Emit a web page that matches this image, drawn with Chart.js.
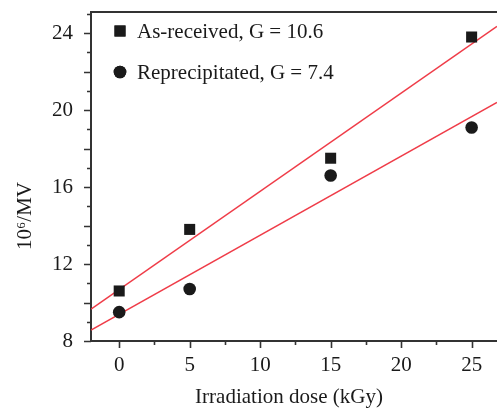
<!DOCTYPE html>
<html>
<head>
<meta charset="utf-8">
<script src="https://cdn.jsdelivr.net/npm/chart.js@4.4.1/dist/chart.umd.min.js"></script>
<style>
  html, body { margin: 0; padding: 0; background: #fff; }
  #wrap { width: 497px; height: 408px; }
</style>
</head>
<body>
<div id="wrap"><canvas id="doseChart" width="497" height="408"></canvas></div>
<script>
// measured points
var doses = [0, 5, 15, 25];
var asReceived = [10.6, 13.8, 17.5, 23.8];
var reprecipitated = [9.5, 10.7, 16.6, 19.1];

// fitted lines, read at the plot edges
var fitDoses = [-2, 26.8];
var asReceivedFit = [9.66, 24.35];
var reprecipitatedFit = [8.57, 20.4];

var xTicks = [0, 2.5, 5, 7.5, 10, 12.5, 15, 17.5, 20, 22.5, 25];
var yTicks = [8, 9, 10, 11, 12, 13, 14, 15, 16, 17, 18, 19, 20, 21, 22, 23, 24, 25];

var legendLabels = ['As-received, G = 10.6', 'Reprecipitated, G = 7.4'];
var xTitle = 'Irradiation dose (kGy)';
var yTitle = '10\u2076/MV';

var serif = "'Liberation Serif', 'DejaVu Serif', serif";
var ink = '#1a1a1a';
var red = 'rgba(238, 50, 62, 0.95)';

function toPoints(xs, ys) {
    return xs.map(function(x, i) { return { x: x, y: ys[i] }; });
}

// draws tick marks (long + short), the top frame line, axis titles and the legend
var framePlugin = {
    id: 'frame',
    afterDraw: function(chart) {
        var ctx = chart.ctx;
        var area = chart.chartArea;
        var xs = chart.scales.x;
        var ys = chart.scales.y;
        ctx.save();
        ctx.strokeStyle = '#333';
        ctx.lineWidth = 1.6;
        ctx.beginPath();
        xTicks.forEach(function(v) {
            var px = Math.round(xs.getPixelForValue(v)) + 0.5;
            var len = v % 5 === 0 ? 7 : 4;
            ctx.moveTo(px, area.bottom);
            ctx.lineTo(px, area.bottom + len);
        });
        yTicks.forEach(function(v) {
            var py = Math.round(ys.getPixelForValue(v)) + 0.5;
            var len = v % 2 === 0 ? 7 : 4;
            ctx.moveTo(area.left, py);
            ctx.lineTo(area.left - len, py);
        });
        ctx.stroke();

        ctx.lineWidth = 2;
        ctx.beginPath();
        ctx.moveTo(area.left - 1, area.top);
        ctx.lineTo(area.right, area.top);
        ctx.stroke();

        ctx.fillStyle = ink;
        ctx.font = '21px ' + serif;

        // axis titles
        ctx.textAlign = 'center';
        ctx.textBaseline = 'middle';
        ctx.fillText(xTitle, 289, 397);
        ctx.save();
        ctx.translate(25, 216);
        ctx.rotate(-Math.PI / 2);
        ctx.fillText(yTitle, 0, 0);
        ctx.restore();

        // legend
        ctx.textAlign = 'left';
        var lx = area.left + 29;
        var rowY = [area.top + 19, area.top + 60];
        chart.data.datasets.slice(0, 2).forEach(function(ds, i) {
            Chart.helpers.drawPoint(ctx, {
                pointStyle: ds.pointStyle,
                radius: ds.pointRadius,
                borderWidth: 0,
                rotation: 0
            }, lx, rowY[i]);
            ctx.fill();
            ctx.fillText(legendLabels[i], lx + 17, rowY[i] + 1);
        });
        ctx.restore();
    }
};

var ctx = document.getElementById('doseChart').getContext('2d');
var doseChart = new Chart(ctx, {
    type: 'scatter',
    data: {
        datasets: [{
            label: legendLabels[0],
            data: toPoints(doses, asReceived),
            pointStyle: 'rect',
            pointRadius: 7.8,
            backgroundColor: ink,
            borderWidth: 0,
            order: 1
        }, {
            label: legendLabels[1],
            data: toPoints(doses, reprecipitated),
            pointStyle: 'circle',
            pointRadius: 6.3,
            backgroundColor: ink,
            borderWidth: 0,
            order: 1
        }, {
            type: 'line',
            data: toPoints(fitDoses, asReceivedFit),
            borderColor: red,
            borderWidth: 1.5,
            pointRadius: 0,
            fill: false,
            order: 2
        }, {
            type: 'line',
            data: toPoints(fitDoses, reprecipitatedFit),
            borderColor: red,
            borderWidth: 1.5,
            pointRadius: 0,
            fill: false,
            order: 2
        }]
    },
    options: {
        responsive: false,
        animation: false,
        layout: {
            autoPadding: false,
            padding: { top: 12, right: 0, left: 0, bottom: 0 }
        },
        plugins: {
            legend: { display: false },
            tooltip: { enabled: false }
        },
        scales: {
            x: {
                type: 'linear',
                min: -2,
                max: 26.8,
                afterBuildTicks: function(scale) {
                    scale.ticks = xTicks.map(function(v) { return { value: v }; });
                },
                afterFit: function(scale) {
                    scale.height = 67;
                    scale.paddingLeft = 0;
                    scale.paddingRight = 0;
                },
                ticks: {
                    autoSkip: false,
                    maxRotation: 0,
                    padding: 5,
                    color: ink,
                    font: { family: serif, size: 21 },
                    callback: function(v) { return v % 5 === 0 ? v : ''; }
                },
                grid: {
                    drawOnChartArea: false,
                    tickLength: 7,
                    tickColor: 'transparent'
                },
                border: { display: true, color: '#333', width: 2 }
            },
            y: {
                type: 'linear',
                min: 8,
                max: 25.1,
                afterBuildTicks: function(scale) {
                    scale.ticks = yTicks.map(function(v) { return { value: v }; });
                },
                afterFit: function(scale) {
                    scale.width = 91;
                    scale.paddingTop = 0;
                    scale.paddingBottom = 0;
                },
                ticks: {
                    autoSkip: false,
                    padding: 11,
                    color: ink,
                    font: { family: serif, size: 21 },
                    callback: function(v) { return v % 4 === 0 ? v : ''; }
                },
                grid: {
                    drawOnChartArea: false,
                    tickLength: 7,
                    tickColor: 'transparent'
                },
                border: { display: true, color: '#333', width: 2 }
            }
        }
    },
    plugins: [framePlugin]
});
</script>
</body>
</html>
